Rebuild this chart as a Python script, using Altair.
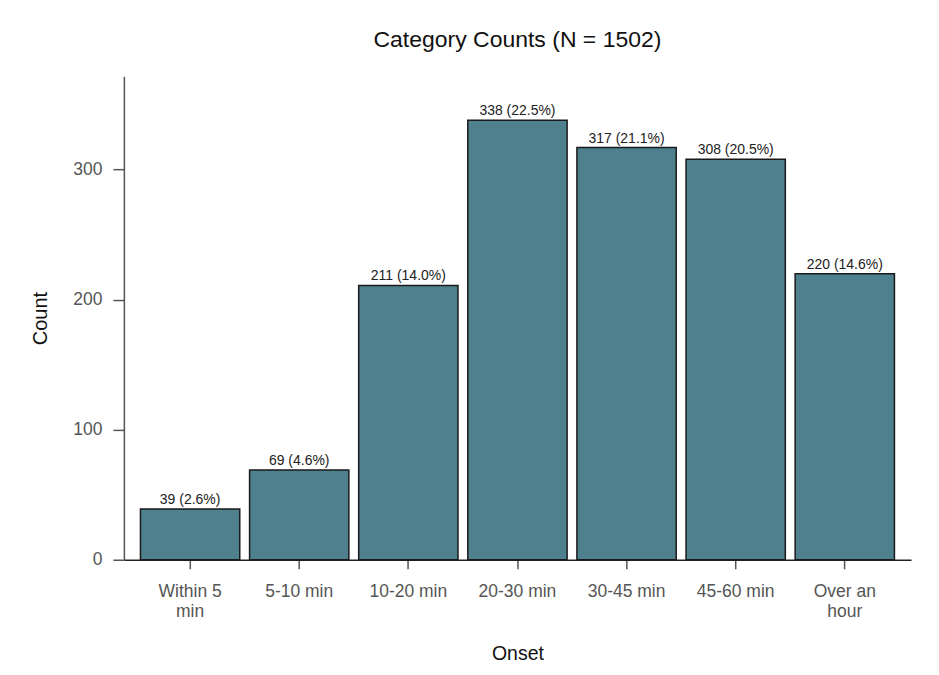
import altair as alt
import pandas as pd

categories = ["Within 5 min", "5-10 min", "10-20 min", "20-30 min", "30-45 min", "45-60 min", "Over an hour"]
counts = [39, 69, 211, 338, 317, 308, 220]
labels = ["39 (2.6%)", "69 (4.6%)", "211 (14.0%)", "338 (22.5%)", "317 (21.1%)", "308 (20.5%)", "220 (14.6%)"]

df = pd.DataFrame({"Onset": categories, "Count": counts, "label": labels})

FONT = "Liberation Sans"

x = alt.X(
    "Onset:N",
    sort=categories,
    scale=alt.Scale(paddingInner=0.09, paddingOuter=0.152),
    axis=alt.Axis(
        title="Onset",
        labelAngle=0,
        labelExpr="datum.value == 'Within 5 min' ? ['Within 5', 'min'] : datum.value == 'Over an hour' ? ['Over an', 'hour'] : datum.value",
        labelFontSize=17.5,
        labelColor="#555555",
        labelFont=FONT,
        labelLineHeight=20,
        labelPadding=14,
        tickSize=9,
        tickColor="#555555",
        tickWidth=1.5,
        domainColor="#222222",
        domainWidth=1.5,
        titleFontSize=19.5,
        titleFont=FONT,
        titleFontWeight="normal",
        titleColor="#111111",
        titlePadding=24,
    ),
)

y = alt.Y(
    "Count:Q",
    scale=alt.Scale(domain=[0, 371.8], nice=False),
    axis=alt.Axis(
        title="Count",
        values=[0, 100, 200, 300],
        labelFontSize=17.5,
        labelColor="#555555",
        labelFont=FONT,
        labelPadding=11,
        tickSize=11,
        tickColor="#555555",
        tickWidth=1.5,
        domainColor="#555555",
        domainWidth=1.5,
        grid=False,
        titleFontSize=20,
        titleFont=FONT,
        titleFontWeight="normal",
        titleColor="#111111",
        titlePadding=22,
    ),
)

bars = alt.Chart(df).mark_bar(
    color="#4e808e", stroke="#1a1a1a", strokeWidth=1.5
).encode(x=x, y=y)

text = alt.Chart(df).mark_text(
    baseline="bottom", dy=-2, fontSize=14, font=FONT, color="#222222"
).encode(x=alt.X("Onset:N", sort=categories), y="Count:Q", text="label:N")

chart = (
    alt.layer(bars, text)
    .properties(
        width=788,
        height=484,
        title=alt.Title(
            "Category Counts (N = 1502)",
            fontSize=23,
            font=FONT,
            fontWeight="normal",
            color="#111111",
            anchor="middle",
            offset=24,
        ),
        autosize=alt.AutoSizeParams(type="none"),
        padding={"left": 116, "top": 68, "right": 20, "bottom": 104},
        background="white",
    )
    .configure_view(stroke=None)
)

chart.save("out.html", embed_options={"renderer": "svg", "actions": False})
